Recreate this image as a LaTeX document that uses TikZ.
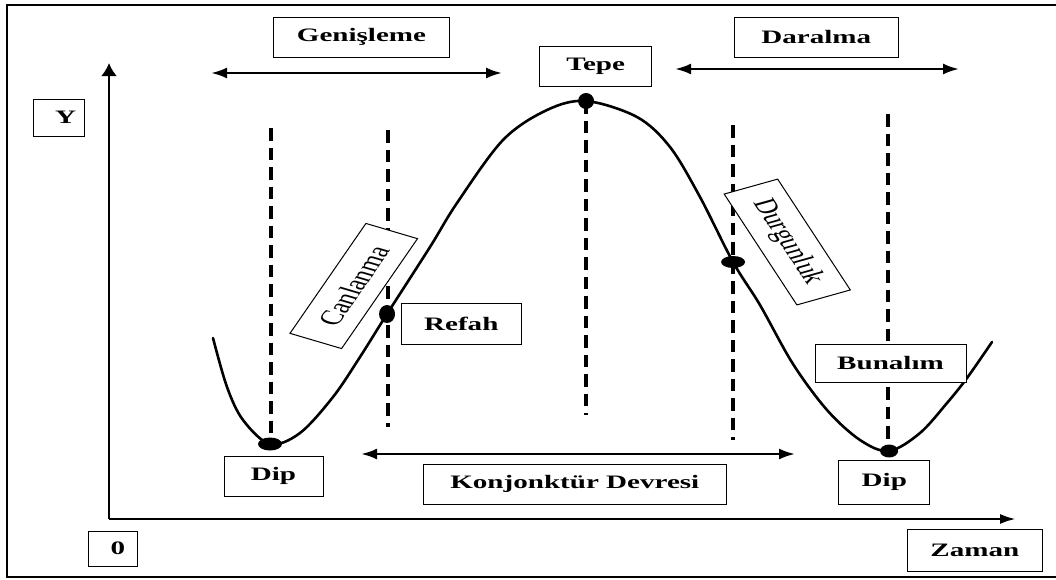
\documentclass[tikz,border=0pt]{standalone}
\usepackage{fontspec}
\setmainfont{Liberation Serif}
\usetikzlibrary{arrows.meta}

\tikzset{
  box/.style={draw, line width=1pt, fill=white, inner sep=0pt,
    font=\bfseries\fontsize{19}{19}\selectfont},
  tiltbox/.style={draw, line width=1pt, fill=white, inner sep=0pt,
    minimum width=120.6pt, minimum height=37pt,
    font=\fontsize{21}{21}\selectfont},
  guide/.style={line width=3.5pt, dash pattern=on 12.5pt off 7pt},
  axis/.style={line width=2.8pt},
  span/.style={line width=2.5pt,
    {Latex[length=16pt,width=11pt]}-{Latex[length=16pt,width=11pt]}},
  cycle/.style={line width=2.6pt, line join=round, line cap=round}
}

\begin{document}
% coordinates are pixels (y downwards); the picture is stretched sideways
\begin{tikzpicture}[x=0.65359pt, y=-1pt, xscale=1.53, transform shape]
\useasboundingbox (0,0) rectangle (1056,579);

% outer frame
\draw[line width=1.6pt] (1056,5) -| (7,577) -- (1056,577);

% points on the curve
\coordinate (pDip1)  at (270,444);
\coordinate (pRefah) at (387,314);
\coordinate (pTepe)  at (586,101);
\coordinate (pDurg)  at (733,262);
\coordinate (pDip2)  at (889,451);

% vertical dashed guides
\coordinate (g1) at (271,128);
\coordinate (g2t) at (388,130); \coordinate (g2b) at (388,427);
\coordinate (g3b) at (586,415);
\coordinate (g4t) at (733,125); \coordinate (g4b) at (733,440);
\coordinate (g5) at (888,114);
\draw[guide] (g1) -- (g1 |- pDip1);
\draw[guide] (g2t) -- (g2b);
\draw[guide] (pTepe) -- (g3b);
\draw[guide] (g4t) -- (g4b);
\draw[guide] (g5) -- (g5 |- pDip2);

% axes
\coordinate (origin) at (109,519);
\coordinate (ytip) at (109,63);
\coordinate (xtip) at (1016,519);
\draw[axis, -{Latex[length=13pt,width=16pt]}] (origin) -- (ytip);
\draw[axis, -{Latex[length=16pt,width=10pt]}] (origin) -- (xtip);

% business cycle curve
\draw[cycle] plot[smooth, tension=0.55] coordinates {
  (213,338) (227,387) (243,420) (270,444) (300,433) (333,397) (360,357)
  (387,314) (430,247) (457,203) (503,140) (547,110) (586,101) (637,117)
  (670,147) (700,197) (733,262) (760,305) (793,364) (827,410) (860,440)
  (889,451) (920,433) (947,403) (967,378) (992,342)};

% phase spans
\coordinate (e1) at (211,73);  \coordinate (e2) at (502,73);
\coordinate (c1) at (675,69);  \coordinate (c2) at (959,69);
\coordinate (k1) at (361,454); \coordinate (k2) at (795,454);
\draw[span] (e1) -- (e2);
\draw[span] (c1) -- (c2);
\draw[span] (k1) -- (k2);

% labels
\node[box, minimum width=33.7pt, minimum height=37pt] (yl) at (58.8,117.5) {\hspace{9pt}Y};
\node[box, minimum width=31.4pt, minimum height=35pt] (zero) at (113,548.5) {\hspace{6.5pt}0};
\node[box, minimum width=88.6pt, minimum height=42pt] (zaman) at (974.8,550) {Zaman};
\node[box, minimum width=114.4pt, minimum height=40pt] (genis) at (361.5,37) {Genişleme};
\node[box, minimum width=73.3pt, minimum height=40pt] (tepe) at (595.6,66) {Tepe};
\node[box, minimum width=106.9pt, minimum height=40pt] (daral) at (816.3,37) {Daralma\hspace{9pt}};
\node[box, minimum width=78.1pt, minimum height=41pt] (refah) at (461.3,323.5) {Refah};
\node[box, minimum width=64.7pt, minimum height=40pt] (dip1) at (273.5,476) {Dip\hspace{10pt}};
\node[box, minimum width=197.7pt, minimum height=40pt] (konj) at (574.8,484) {Konjonktür Devresi\hspace{5pt}};
\node[box, minimum width=98.7pt, minimum height=38pt] (bunal) at (890.5,363) {Bunalım};
\node[box, minimum width=59.7pt, minimum height=44pt] (dip2) at (884.3,482) {Dip};

\node[tiltbox, rotate=65.7] (canl) at (353.75,286) {Canlanma};
\node[tiltbox, rotate=-66.8, minimum height=38pt] (durg) at (787.25,242) {Durgunluk};

% marked points
\fill (pDip1)  ellipse [x radius=12, y radius=6.5];
\fill (pRefah) ellipse [x radius=8, y radius=9];
\fill (pTepe)  ellipse [x radius=8, y radius=8];
\fill (pDurg)  ellipse [x radius=12, y radius=6];
\fill (pDip2)  ellipse [x radius=9, y radius=6.5];
\end{tikzpicture}
\end{document}
